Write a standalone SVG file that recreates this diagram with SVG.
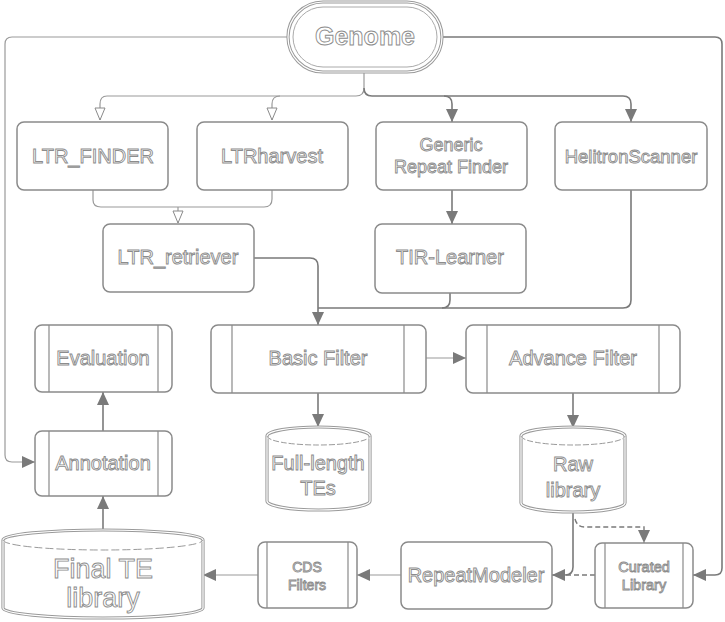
<svg xmlns="http://www.w3.org/2000/svg" width="725" height="622" viewBox="0 0 725 622">
<defs>
<style>
.bx{fill:#fff;stroke:#8a8a8a;stroke-width:1.5}
.in{fill:none;stroke:#8a8a8a;stroke-width:1.2}
.t{font-family:"Liberation Sans",Arial,sans-serif;fill:#fff;stroke:#8c8c8c;stroke-width:0.9;text-anchor:middle}
.c{fill:none;stroke:#7a7a7a;stroke-width:1.6}
.cl{fill:none;stroke:#9a9a9a;stroke-width:1.2}
.dash{fill:none;stroke:#7a7a7a;stroke-width:1.4;stroke-dasharray:5 3}
.dbl1{fill:#fff;stroke:#9a9a9a;stroke-width:3.2}
.dbl2{fill:none;stroke:#fff;stroke-width:1.2}
</style>
<marker id="af" markerUnits="userSpaceOnUse" markerWidth="14" markerHeight="12" refX="13" refY="6" orient="auto">
<path d="M0,0 L13,6 L0,12 z" fill="#7a7a7a"/>
</marker>
<marker id="ao" markerUnits="userSpaceOnUse" markerWidth="14" markerHeight="14" refX="13" refY="6" orient="auto">
<path d="M1,1 L13,6 L1,11 z" fill="#fff" stroke="#8a8a8a" stroke-width="1"/>
</marker>
</defs>
<rect width="725" height="622" fill="#fff"/>

<g id="connectors">
<path class="cl" d="M288,37 H12 Q5,37 5,44 V455 Q5,462 12,462 H35" marker-end="url(#af)"/>
<path class="c" d="M442,37 H715 Q722,37 722,44 V568 Q722,575 715,575 H693" marker-end="url(#af)"/>
<path class="cl" d="M364,72 V88 Q364,96 356,96 H107 Q100,96 100,104 V120" marker-end="url(#ao)"/>
<path class="cl" d="M280,96 Q272,96 272,104 V120" marker-end="url(#ao)"/>
<path class="c" d="M364,88 Q364,96 372,96 H444 Q452,96 452,104 V122" marker-end="url(#af)"/>
<path class="c" d="M444,96 H623 Q631,96 631,104 V122" marker-end="url(#af)"/>
<path class="cl" d="M93,190 V200 Q93,207 101,207 H264 Q272,207 272,199 V190"/>
<path class="cl" d="M178,207 V223" marker-end="url(#ao)"/>
<path class="c" d="M452,190 V224" marker-end="url(#af)"/>
<path class="c" d="M254,258 H310 Q318,258 318,266 V325" marker-end="url(#af)"/>
<path class="c" d="M450,293 V300 Q450,308 442,308 H318"/>
<path class="c" d="M631,190 V300 Q631,308 623,308 H442"/>
<path class="c" d="M318,393 V427" marker-end="url(#af)"/>
<path class="cl" d="M426,358 H466" marker-end="url(#af)"/>
<path class="c" d="M573,393 V428" marker-end="url(#af)"/>
<path class="c" d="M103,431 V392" marker-end="url(#af)"/>
<path class="c" d="M103,530 V496" marker-end="url(#af)"/>
<path class="c" d="M573,512 V567 Q573,575 565,575 H552" marker-end="url(#af)"/>
<path class="dash" d="M575,519 Q577,527 585,527 H644 V543" marker-end="url(#af)"/>
<path class="dash" d="M595,575 H566"/>
<path class="cl" d="M401,575 H357" marker-end="url(#af)"/>
<path class="cl" d="M258,575 H203" marker-end="url(#af)"/>
</g>

<g id="genome">
<rect class="dbl1" x="288" y="2" width="154" height="70" rx="35"/>
<rect class="dbl2" x="288" y="2" width="154" height="70" rx="35"/>
<rect fill="none" stroke="#aaa" stroke-width="1" x="293" y="7" width="144" height="60" rx="30"/>
<text class="t" x="365" y="45" font-size="25" font-weight="bold">Genome</text>
</g>

<g id="ltr_finder">
<rect class="bx" x="17" y="122" width="151" height="68" rx="7"/>
<text class="t" x="93" y="163" font-size="20">LTR_FINDER</text>
</g>
<g id="ltrharvest">
<rect class="bx" x="197" y="122" width="151" height="68" rx="7"/>
<text class="t" x="272" y="163" font-size="20">LTRharvest</text>
</g>
<g id="grf">
<rect class="bx" x="376" y="122" width="151" height="68" rx="7"/>
<text class="t" x="451" y="151" font-size="18">Generic</text>
<text class="t" x="451" y="173" font-size="18">Repeat Finder</text>
</g>
<g id="helitronscanner">
<rect class="bx" x="555" y="122" width="152" height="68" rx="7"/>
<text class="t" x="631" y="163" font-size="18.5">HelitronScanner</text>
</g>
<g id="ltr_retriever">
<rect class="bx" x="103" y="224" width="151" height="68" rx="7"/>
<text class="t" x="178" y="264" font-size="20">LTR_retriever</text>
</g>
<g id="tir_learner">
<rect class="bx" x="375" y="224" width="151" height="69" rx="7"/>
<text class="t" x="450" y="264" font-size="20">TIR-Learner</text>
</g>

<g id="evaluation">
<rect class="bx" x="35" y="325" width="137" height="67" rx="7"/>
<path class="in" d="M49,325 V392 M158,325 V392"/>
<text class="t" x="103" y="365" font-size="20">Evaluation</text>
</g>
<g id="annotation">
<rect class="bx" x="35" y="431" width="137" height="65" rx="7"/>
<path class="in" d="M49,431 V496 M158,431 V496"/>
<text class="t" x="103" y="470" font-size="20">Annotation</text>
</g>
<g id="basic_filter">
<rect class="bx" x="211" y="325" width="215" height="68" rx="7"/>
<path class="in" d="M232,325 V393 M404,325 V393"/>
<text class="t" x="318" y="365" font-size="20">Basic Filter</text>
</g>
<g id="advance_filter">
<rect class="bx" x="466" y="325" width="214" height="68" rx="7"/>
<path class="in" d="M487,325 V393 M659,325 V393"/>
<text class="t" x="573" y="365" font-size="20">Advance Filter</text>
</g>

<g id="full_length_tes">
<path class="dbl1" d="M267,436 A51.5,9 0 0 1 370,436 V501 A51.5,9 0 0 1 267,501 Z"/>
<path class="dbl2" d="M267,436 A51.5,9 0 0 1 370,436 V501 A51.5,9 0 0 1 267,501 Z M267,436 A51.5,9 0 0 0 370,436"/>
<path fill="none" stroke="#9a9a9a" stroke-width="1" stroke-dasharray="6 2" d="M267,436 A51.5,9 0 0 0 370,436"/>
<text class="t" x="318" y="470" font-size="20">Full-length</text>
<text class="t" x="318" y="495" font-size="20">TEs</text>
</g>
<g id="raw_library">
<path class="dbl1" d="M521,436 A52,9 0 0 1 625,436 V503 A52,9 0 0 1 521,503 Z"/>
<path class="dbl2" d="M521,436 A52,9 0 0 1 625,436 V503 A52,9 0 0 1 521,503 Z M521,436 A52,9 0 0 0 625,436"/>
<path fill="none" stroke="#9a9a9a" stroke-width="1" stroke-dasharray="6 2" d="M521,436 A52,9 0 0 0 625,436"/>
<text class="t" x="573" y="471" font-size="20">Raw</text>
<text class="t" x="573" y="497" font-size="20">library</text>
</g>
<g id="final_te_library">
<path class="dbl1" d="M3,540 A100,10 0 0 1 203,540 V608 A100,10 0 0 1 3,608 Z"/>
<path class="dbl2" d="M3,540 A100,10 0 0 1 203,540 V608 A100,10 0 0 1 3,608 Z M3,540 A100,10 0 0 0 203,540"/>
<path fill="none" stroke="#9a9a9a" stroke-width="1" stroke-dasharray="8 3" d="M3,540 A100,10 0 0 0 203,540"/>
<text class="t" x="103" y="578" font-size="27">Final TE</text>
<text class="t" x="103" y="607" font-size="27">library</text>
</g>
<g id="cds_filters">
<rect class="bx" x="258" y="542" width="99" height="66" rx="7"/>
<path class="in" d="M267,542 V608 M348,542 V608"/>
<text class="t" x="307" y="572" font-size="14">CDS</text>
<text class="t" x="307" y="590" font-size="14">Filters</text>
</g>
<g id="repeatmodeler">
<rect class="bx" x="401" y="542" width="151" height="67" rx="7"/>
<text class="t" x="476" y="582" font-size="20">RepeatModeler</text>
</g>
<g id="curated_library">
<rect class="bx" x="595" y="543" width="98" height="65" rx="7"/>
<path class="in" d="M605,543 V608 M683,543 V608"/>
<text class="t" x="644" y="572" font-size="14.5">Curated</text>
<text class="t" x="644" y="590" font-size="14.5">Library</text>
</g>
</svg>
